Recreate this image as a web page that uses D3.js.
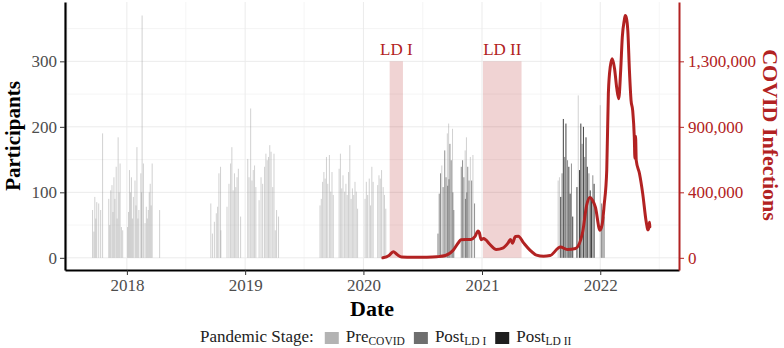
<!DOCTYPE html>
<html>
<head>
<meta charset="utf-8">
<script src="https://cdnjs.cloudflare.com/ajax/libs/d3/7.8.5/d3.min.js"></script>
<style>
  body { margin: 0; background: #fff; }
  svg text { font-family: "Liberation Serif", "Times New Roman", serif; }
</style>
</head>
<body>
<div id="chart"></div>
<script>
// participants per session day; day = days after the season start
const season1Start = '2017-09-01';
const season1Days = [16, 20, 23, 26, 29, 35, 41, 47, 66, 69, 72, 76, 79, 82, 85, 89, 92, 95, 98, 101, 105, 109,
  124, 127, 130, 133, 136, 139, 142, 147, 150, 153, 156, 159, 165, 167, 169, 173, 178, 182, 185, 188, 191, 194, 197, 200, 223];
const season1Counts = [73, 40, 93, 60, 85, 83, 73, 190, 90, 50, 103, 111, 70, 123, 90, 139, 60, 184, 100, 144, 47, 42,
  47, 70, 134, 100, 123, 60, 93, 118, 80, 169, 60, 73, 129, 100, 370, 144, 53, 78, 60, 73, 100, 113, 80, 144, 73];

const season2Start = '2018-09-01';
const season2Days = [16, 21, 27, 33, 37, 41, 46, 47, 66, 72, 77, 81, 85, 89, 93, 97, 101, 108,
  130, 134, 139, 143, 147, 151, 155, 165, 171, 176, 182, 186, 190, 194, 198, 202, 207, 211, 215, 219, 225];
const season2Counts = [83, 37, 55, 68, 78, 129, 139, 42, 78, 113, 144, 169, 103, 129, 108, 123, 136, 63,
  151, 123, 228, 118, 134, 141, 108, 88, 123, 113, 139, 159, 149, 154, 172, 162, 108, 159, 42, 73, 63];

const season3Start = '2019-08-15';
const season3Days = [5, 9, 13, 17, 21, 25, 29, 34, 38, 42, 46, 64, 68, 72, 76, 81, 85, 89, 93, 97, 101, 105, 109, 113, 117, 121,
  144, 148, 152, 157, 161, 165, 169, 183, 187, 191, 195, 200, 204, 208];
const season3Counts = [80, 90, 116, 131, 121, 154, 113, 157, 101, 131, 96, 136, 159, 106, 126, 101, 113, 96, 131, 172, 90, 106, 96, 116, 101, 75,
  90, 116, 96, 121, 80, 139, 116, 111, 126, 121, 134, 108, 96, 75];

const season4Start = '2020-08-15';
const season4Days = [3, 7, 11, 15, 19, 24, 28, 32, 33, 36, 37, 40, 44, 48, 49, 52,
  75, 79, 83, 87, 88, 91, 92, 95, 99, 103, 107, 111, 116];
const season4Counts = [37, 98, 129, 141, 108, 164, 123, 190, 110, 205, 120, 174, 149, 197, 100, 73,
  139, 149, 123, 164, 90, 184, 100, 139, 118, 154, 118, 157, 83];
const season4Stages = ['I', 'I', 'I', 'Pre', 'I', 'I', 'I', 'Pre', 'I', 'Pre', 'I', 'I', 'I', 'Pre', 'I', 'I',
  'I', 'I', 'I', 'Pre', 'I', 'Pre', 'I', 'I', 'I', 'Pre', 'I', 'Pre', 'I'];

const season5Start = '2021-08-15';
const season5Days = [9, 13, 17, 21, 25, 29, 33, 38, 42, 46, 50, 54, 67, 71, 75, 79, 83, 87, 91, 95, 99, 104, 108, 112, 116, 120,
  139, 143, 147, 151];
const season5Counts = [118, 123, 93, 129, 212, 154, 205, 149, 139, 98, 144, 63, 108, 248, 134, 205, 174, 200, 154, 184, 139, 129, 103, 93, 126, 113,
  233, 83, 73, 63];
const season5Stages = ['Pre', 'Pre', 'II', 'I', 'II', 'I', 'II', 'I', 'II', 'II', 'I', 'II', 'II', 'Pre', 'II', 'II', 'I', 'II', 'I', 'II', 'II', 'I', 'II', 'II', 'I', 'II',
  'Pre', 'I', 'I', 'I'];

// new COVID infections
const covidDates = ['2020-03-01', '2020-03-20', '2020-04-02', '2020-04-15', '2020-04-28', '2020-06-01', '2020-07-15', '2020-08-14',
  '2020-09-10', '2020-10-04', '2020-10-20', '2020-10-28', '2020-11-28', '2020-12-10', '2020-12-20', '2020-12-24', '2020-12-29',
  '2021-01-06', '2021-01-12', '2021-01-25', '2021-02-14', '2021-03-06', '2021-03-22', '2021-03-30', '2021-04-05', '2021-04-14',
  '2021-04-23', '2021-05-10', '2021-05-29', '2021-06-18', '2021-07-10', '2021-07-30', '2021-08-31', '2021-09-21', '2021-10-17',
  '2021-11-07', '2021-11-20', '2021-11-30', '2021-12-08', '2021-12-17', '2021-12-31', '2022-01-07', '2022-01-13', '2022-01-21',
  '2022-01-26', '2022-02-01', '2022-02-07', '2022-02-14', '2022-02-21', '2022-02-27', '2022-03-05', '2022-03-10', '2022-03-16',
  '2022-03-19', '2022-03-23', '2022-03-27', '2022-04-01', '2022-04-06', '2022-04-11', '2022-04-16', '2022-04-18', '2022-04-20',
  '2022-04-22', '2022-05-02', '2022-05-12', '2022-05-22', '2022-05-25', '2022-05-28', '2022-05-31', '2022-06-02', '2022-06-03'];
const covidCases = [0, 15000, 40000, 20000, 6000, 3000, 4000, 7000,
  15000, 50000, 100000, 120000, 122000, 140000, 178000, 165000, 120000,
  128000, 120000, 90000, 55000, 64000, 97000, 122000, 97000, 141000,
  143000, 97000, 51000, 18000, 10000, 15000, 71000, 55000, 62000,
  163000, 348000, 399000, 381000, 335000, 183000, 223000, 348000, 579000,
  1088000, 1266000, 1317000, 1253000, 1121000, 1053000, 1240000, 1460000, 1570000,
  1603000, 1583000, 1504000, 1240000, 1042000, 976000, 800000, 658000, 805000,
  645000, 558000, 425000, 249000, 210000, 185000, 200000, 235000, 205000];

const lockdownNames = ['LD I', 'LD II'];
const lockdownStarts = ['2020-03-22', '2021-01-04'];
const lockdownEnds = ['2020-05-02', '2021-05-03'];

const participantTicks = [0, 100, 200, 300];
const participantMinor = [50, 150, 250, 350];
const yearTicks = ['2018-01-01', '2019-01-01', '2020-01-01', '2021-01-01', '2022-01-01'];
const yearMinor = ['2017-07-02', '2018-07-02', '2019-07-02', '2020-07-02', '2021-07-02', '2022-07-02'];

const stageNames = ['Pre', 'I', 'II'];
const stageLabels = [['Pre', 'COVID'], ['Post', 'LD I'], ['Post', 'LD II']];

const width = 784;
const height = 348;
const red = '#b22222';
const casesPerParticipant = 1300000 / 300;

const parse = d3.utcParse('%Y-%m-%d');

const svg = d3.select('#chart')
              .append('svg')
              .attr('width', width)
              .attr('height', height);

const x = d3.scaleUtc()
            .domain([parse('2017-06-24'), parse('2022-09-01')])
            .range([65, 679]);

const y = d3.scaleLinear()
            .domain([-18.6, 390.6])
            .range([270, 2]);

const stageFill = d3.scaleOrdinal().domain(stageNames).range(['#9a9a9a', '#555555', '#111111']);
const stageOpacity = d3.scaleOrdinal().domain(stageNames).range([0.45, 0.65, 0.8]);
const keyFill = d3.scaleOrdinal().domain(stageNames).range(['#b3b3b3', '#6e6e6e', '#1e1e1e']);

// grid
const grid = svg.append('g');
grid.selectAll('.hminor').data(participantMinor).enter().append('line')
    .attr('x1', 65).attr('x2', 679)
    .attr('y1', d => y(d)).attr('y2', d => y(d))
    .attr('stroke', '#f3f3f3').attr('stroke-width', 0.8);
grid.selectAll('.vminor').data(yearMinor.map(parse)).enter().append('line')
    .attr('x1', d => x(d)).attr('x2', d => x(d))
    .attr('y1', 2).attr('y2', 270)
    .attr('stroke', '#f3f3f3').attr('stroke-width', 0.8);
grid.selectAll('.hmajor').data(participantTicks).enter().append('line')
    .attr('x1', 65).attr('x2', 679)
    .attr('y1', d => y(d)).attr('y2', d => y(d))
    .attr('stroke', '#ebebeb').attr('stroke-width', 1);
grid.selectAll('.vmajor').data(yearTicks.map(parse)).enter().append('line')
    .attr('x1', d => x(d)).attr('x2', d => x(d))
    .attr('y1', 2).attr('y2', 270)
    .attr('stroke', '#ebebeb').attr('stroke-width', 1);

// lockdown periods
const lockdowns = lockdownNames.map((name, i) => ({
    name, start: parse(lockdownStarts[i]), end: parse(lockdownEnds[i])
}));

svg.selectAll('.lockdown').data(lockdowns).enter().append('rect')
    .attr('x', d => x(d.start))
    .attr('width', d => x(d.end) - x(d.start))
    .attr('y', y(300))
    .attr('height', y(0) - y(300))
    .attr('fill', red)
    .attr('fill-opacity', 0.2);

svg.selectAll('.lockdown-label').data(lockdowns).enter().append('text')
    .attr('x', d => (x(d.start) + x(d.end)) / 2)
    .attr('y', 55)
    .attr('text-anchor', 'middle')
    .attr('fill', red)
    .attr('font-size', 17)
    .text(d => d.name);

// participant bars
function season(start, days, counts, stages) {
    const s = parse(start);
    return days.map((d, i) => ({
        date: d3.utcDay.offset(s, d),
        value: counts[i],
        stage: stages ? stages[i] : 'Pre'
    }));
}

const bars = [
    ...season(season1Start, season1Days, season1Counts),
    ...season(season2Start, season2Days, season2Counts),
    ...season(season3Start, season3Days, season3Counts),
    ...season(season4Start, season4Days, season4Counts, season4Stages),
    ...season(season5Start, season5Days, season5Counts, season5Stages)
].sort((a, b) => stageNames.indexOf(a.stage) - stageNames.indexOf(b.stage));

svg.append('g').selectAll('rect').data(bars).enter().append('rect')
    .attr('x', d => x(d.date) - 0.5)
    .attr('width', 1)
    .attr('y', d => y(d.value))
    .attr('height', d => y(0) - y(d.value))
    .attr('fill', d => stageFill(d.stage))
    .attr('fill-opacity', d => stageOpacity(d.stage));

// infections line (drawn on the participant scale)
const covid = covidDates.map((d, i) => ({ date: parse(d), cases: covidCases[i] }));

const line = d3.line()
               .x(d => x(d.date))
               .y(d => y(d.cases / casesPerParticipant))
               .curve(d3.curveMonotoneX);

svg.append('path')
    .datum(covid)
    .attr('d', line)
    .attr('fill', 'none')
    .attr('stroke', red)
    .attr('stroke-width', 3)
    .attr('stroke-linejoin', 'round')
    .attr('stroke-linecap', 'round');

// axes
const leftAxis = svg.append('g')
    .attr('transform', 'translate(65,0)')
    .call(d3.axisLeft(y).tickValues(participantTicks).tickSize(5).tickSizeOuter(0).tickPadding(3));

const bottomAxis = svg.append('g')
    .attr('transform', 'translate(0,270)')
    .call(d3.axisBottom(x).tickValues(yearTicks.map(parse)).tickFormat(d3.utcFormat('%Y'))
        .tickSize(5).tickSizeOuter(0).tickPadding(4));

const rightAxis = svg.append('g')
    .attr('transform', 'translate(679,0)')
    .call(d3.axisRight(y).tickValues(participantTicks)
        .tickFormat(v => d3.format(',')(Math.round(v * casesPerParticipant / 1e5) * 1e5))
        .tickSize(5).tickSizeOuter(0).tickPadding(4));

[leftAxis, bottomAxis].forEach(a => {
    a.select('.domain').attr('stroke', '#000').attr('stroke-width', 2.2);
    a.selectAll('.tick line').attr('stroke', '#333');
    a.selectAll('.tick text').attr('fill', '#4d4d4d').attr('font-size', 17);
});
rightAxis.select('.domain').attr('stroke', red).attr('stroke-width', 2);
rightAxis.selectAll('.tick line').attr('stroke', red);
rightAxis.selectAll('.tick text').attr('fill', red).attr('font-size', 17);

// axis titles
svg.append('text')
    .attr('transform', 'translate(20,136) rotate(-90)')
    .attr('text-anchor', 'middle')
    .attr('font-size', 21)
    .attr('font-weight', 'bold')
    .text('Participants');

svg.append('text')
    .attr('transform', 'translate(763,135) rotate(90)')
    .attr('text-anchor', 'middle')
    .attr('font-size', 22)
    .attr('font-weight', 'bold')
    .attr('fill', red)
    .text('COVID Infections');

svg.append('text')
    .attr('x', 372)
    .attr('y', 316)
    .attr('text-anchor', 'middle')
    .attr('font-size', 22)
    .attr('font-weight', 'bold')
    .text('Date');

// legend
const legend = svg.append('g').attr('transform', 'translate(200,342)');

const legendTitle = legend.append('text')
    .attr('font-size', 17)
    .attr('fill', '#222')
    .text('Pandemic Stage:');

let cursor = legendTitle.node().getComputedTextLength() + 11;

stageNames.forEach((s, i) => {
    const item = legend.append('g').attr('transform', `translate(${cursor},0)`);
    item.append('rect')
        .attr('x', 0).attr('y', -10)
        .attr('width', 14).attr('height', 12)
        .attr('fill', keyFill(s));
    const label = item.append('text')
        .attr('x', 21)
        .attr('font-size', 17)
        .attr('fill', '#222');
    label.append('tspan').text(stageLabels[i][0]);
    label.append('tspan')
        .attr('font-size', 11.5)
        .attr('dy', 3)
        .text(stageLabels[i][1]);
    cursor += 21 + label.node().getComputedTextLength() + 9;
});
</script>
</body>
</html>
